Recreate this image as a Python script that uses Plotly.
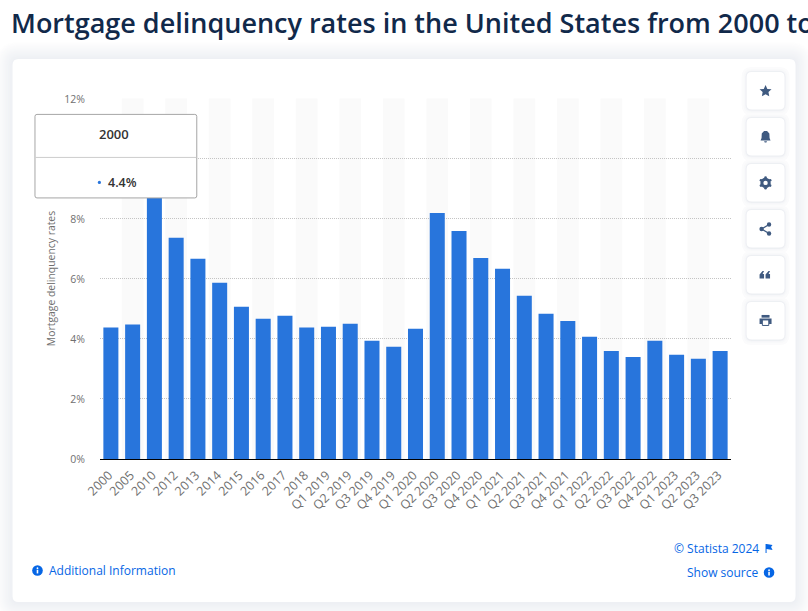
import plotly.graph_objects as go

categories = ["2000","2005","2010","2012","2013","2014","2015","2016","2017","2018",
              "Q1 2019","Q2 2019","Q3 2019","Q4 2019","Q1 2020","Q2 2020","Q3 2020","Q4 2020",
              "Q1 2021","Q2 2021","Q3 2021","Q4 2021","Q1 2022","Q2 2022","Q3 2022","Q4 2022",
              "Q1 2023","Q2 2023","Q3 2023"]
rates = [4.38,4.48,9.3,7.37,6.67,5.87,5.07,4.67,4.77,4.38,
         4.41,4.51,3.94,3.74,4.34,8.2,7.6,6.7,
         6.34,5.44,4.84,4.6,4.07,3.6,3.4,3.94,
         3.47,3.34,3.6]
y_ticks = [0,2,4,6,8,10,12]
y_labels = [f"{v}%" for v in y_ticks]
y_top = 12.03

W, H = 808, 611
L, R, B = 99.6, 731.4, 459
T = B - y_top * 30
BAND_TOP = 98.5
FONT = "Open Sans"
BLUE = "#2875dc"
LINK = "#0666e5"
ICON = "#3f5a80"
TITLE = "#11294a"

def X(px): return (px - L) / (R - L)
def Y(py): return (B - py) / (B - T)

def rr(x0, y0, x1, y1, r):
    return (f"M{X(x0+r)},{Y(y0)} L{X(x1-r)},{Y(y0)} Q{X(x1)},{Y(y0)} {X(x1)},{Y(y0+r)} "
            f"L{X(x1)},{Y(y1-r)} Q{X(x1)},{Y(y1)} {X(x1-r)},{Y(y1)} "
            f"L{X(x0+r)},{Y(y1)} Q{X(x0)},{Y(y1)} {X(x0)},{Y(y1-r)} "
            f"L{X(x0)},{Y(y0+r)} Q{X(x0)},{Y(y0)} {X(x0+r)},{Y(y0)} Z")

def poly(pts, cx=0, cy=0):
    return "M" + " L".join(f"{X(cx+a)},{Y(cy+b)}" for a, b in pts) + " Z"

def circle(cx, cy, r):
    return dict(type="circle", xref="paper", yref="paper", x0=X(cx-r), x1=X(cx+r), y0=Y(cy+r), y1=Y(cy-r))

shapes = []
# card with soft shadow
for g in range(18, 0, -1):
    v = 1 - g / 18
    c = (int(255 - 17 * v), int(255 - 15 * v), int(255 - 11 * v))
    shapes.append(dict(type="path", xref="paper", yref="paper", layer="below",
                       path=rr(12-g, 59-g, 796+g, 603+g, 6+g), fillcolor="rgb(%d,%d,%d)" % c, line_width=0))
shapes.append(dict(type="path", xref="paper", yref="paper", layer="below",
                   path=rr(12, 59, 796, 602, 6), fillcolor="white", line_width=0))
# alternating bands
for i in range(1, len(categories), 2):
    shapes.append(dict(type="rect", xref="x", yref="paper", layer="below",
                       x0=i-0.5, x1=i+0.5, y0=Y(B), y1=Y(BAND_TOP), fillcolor="#fafafa", line_width=0))
# tooltip
shapes.append(dict(type="path", xref="paper", yref="paper", layer="above",
                   path=rr(34.5, 114.5, 196.5, 198, 2), fillcolor="white", line=dict(color="#a6a6a6", width=1)))
shapes.append(dict(type="line", xref="paper", yref="paper", layer="above",
                   x0=X(35), x1=X(196), y0=Y(157.5), y1=Y(157.5), line=dict(color="#cccccc", width=1)))
shapes.append({**circle(99, 182.5, 1.6), "fillcolor": BLUE, "line_width": 0, "layer": "above"})
# buttons
button_cy = [91, 137, 183, 229, 275, 321]
for cy in button_cy:
    for g, col in [(5, "#fbfbfc"), (3, "#f8f9fa"), (1.5, "#f3f4f7"), (0.7, "#eceef2")]:
        shapes.append(dict(type="path", xref="paper", yref="paper", layer="above",
                           path=rr(747-g, cy-19-g, 785+g, cy+19+g, 5+g), fillcolor=col, line_width=0))
    shapes.append(dict(type="path", xref="paper", yref="paper", layer="above",
                       path=rr(747, cy-19, 785, cy+18.5, 5), fillcolor="white", line_width=0))

def icon(path):
    shapes.append(dict(type="path", xref="paper", yref="paper", layer="above", path=path, fillcolor=ICON, line_width=0))
def icon_c(cx, cy, r, col=ICON):
    shapes.append({**circle(cx, cy, r), "fillcolor": col, "line_width": 0, "layer": "above"})

cx = 766
# star
icon(poly([(0,-6),(1.8,-2),(6,-1.6),(2.9,1.2),(3.7,5.4),(0,3.3),(-3.7,5.4),(-2.9,1.2),(-6,-1.6),(-1.8,-2)], cx, 91))
# bell
icon(poly([(-1.5,-6),(1.5,-6),(3.8,-3.5),(4,1),(5,3.5),(-5,3.5),(-4,1),(-3.8,-3.5)], cx, 137))
icon(poly([(-1.5,4.3),(1.5,4.3),(0.8,5.6),(-0.8,5.6)], cx, 137))
# gear
icon_c(cx, 183, 5.2)
for dx, dy in [(0,-5.3),(0,5.3),(-4.6,-2.7),(4.6,-2.7),(-4.6,2.7),(4.6,2.7)]:
    icon_c(cx+dx, 183+dy, 1.3)
icon_c(cx, 183, 2.2, "white")
# share
icon_c(cx+3.5, 224.5, 2.2); icon_c(cx-4, 229, 2.2); icon_c(cx+3.5, 233.5, 2.2)
shapes.append(dict(type="path", xref="paper", yref="paper", layer="above",
                   path=f"M{X(cx+3.5)},{Y(224.5)} L{X(cx-4)},{Y(229)} L{X(cx+3.5)},{Y(233.5)}",
                   line=dict(color=ICON, width=1.3)))
# quotes
for off in (-4.5, 1.5):
    icon(poly([(1.5,-4),(3,-4),(1.5,-1),(3,-1),(3,3.5),(-1.5,3.5),(-1.5,-0.5)], cx+off, 275))
# printer
icon(poly([(-6,-2.5),(6,-2.5),(6,3),(3.5,3),(3.5,1),(-3.5,1),(-3.5,3),(-6,3)], cx, 321))
icon(poly([(-4,-6),(4,-6),(4,-3.3),(-4,-3.3)], cx, 321))
shapes.append(dict(type="rect", xref="paper", yref="paper", layer="above", x0=X(cx-3.2), x1=X(cx+3.2),
                   y0=Y(325.5), y1=Y(320), fillcolor="white", line=dict(color=ICON, width=1)))
# footer icons
for c_x, c_y in [(37, 570.5), (769.5, 572.5)]:
    icon_c(c_x, c_y, 5.3, LINK)
    icon_c(c_x, c_y-2.4, 0.9, "white")
    shapes.append(dict(type="rect", xref="paper", yref="paper", layer="above", x0=X(c_x-0.8), x1=X(c_x+0.8),
                       y0=Y(c_y+2.9), y1=Y(c_y-0.8), fillcolor="white", line_width=0))
# flag
shapes.append(dict(type="path", xref="paper", yref="paper", layer="above",
                   path=poly([(0,0),(1,0),(7,1),(5.5,3),(7,6),(1,5),(1,9),(0,9)], 766, 544), fillcolor=LINK, line_width=0))

def note(text, x, y, size, color, anchor="left", weight=400):
    return dict(text=text, xref="paper", yref="paper", x=X(x), y=Y(y),
                xanchor=anchor, yanchor="middle", showarrow=False,
                font=dict(family=FONT, size=size, color=color, weight=weight))

annotations = [
    note("Mortgage delinquency rates in the United States from 2000 to 2023", 8, 23, 27, TITLE, weight=600),
    note("2000", 114, 134.5, 13, "#333333", "center", weight=600),
    note("4.4%", 106, 182.5, 12.5, "#333333", weight=600),
    note("Additional Information", 47, 570.5, 12, LINK),
    note("© Statista 2024", 761, 548, 12, LINK, "right"),
    note("Show source", 761, 572.5, 12, LINK, "right"),
]

fig = go.Figure(go.Bar(x=categories, y=rates, marker=dict(color=BLUE, line_width=0), width=0.69, hoverinfo="skip"))
fig.update_layout(
    width=W, height=H, autosize=False,
    margin=dict(l=L, r=W-R, t=T, b=H-B, pad=0),
    paper_bgcolor="white", plot_bgcolor="rgba(0,0,0,0)",
    showlegend=False, shapes=shapes, annotations=annotations, font=dict(family=FONT),
)
fig.update_xaxes(type="category", categoryorder="array", categoryarray=categories, range=[-0.5, len(categories)-0.5],
                 tickangle=-45, tickfont=dict(family=FONT, size=12.5, color="#707070"),
                 showline=True, linecolor="#000000", linewidth=1, showgrid=False, ticks="outside", ticklen=3, tickcolor="rgba(0,0,0,0)",
                 ticklabelshift=-2)
fig.update_yaxes(range=[0, y_top], tickvals=y_ticks, ticktext=y_labels, tickfont=dict(family=FONT, size=10.5, color="#707070"),
                 showgrid=True, gridcolor="#c4c4c4", griddash="1px,1px", gridwidth=1, zeroline=False,
                 ticks="outside", ticklen=12, tickcolor="rgba(0,0,0,0)",
                 title=dict(text="Mortgage delinquency rates", font=dict(family=FONT, size=10.4, color="#707070"), standoff=6))
fig.write_html("out.html", config=dict(displayModeBar=False),
               post_script="document.body.style.margin='0';document.documentElement.style.overflow='hidden';")
